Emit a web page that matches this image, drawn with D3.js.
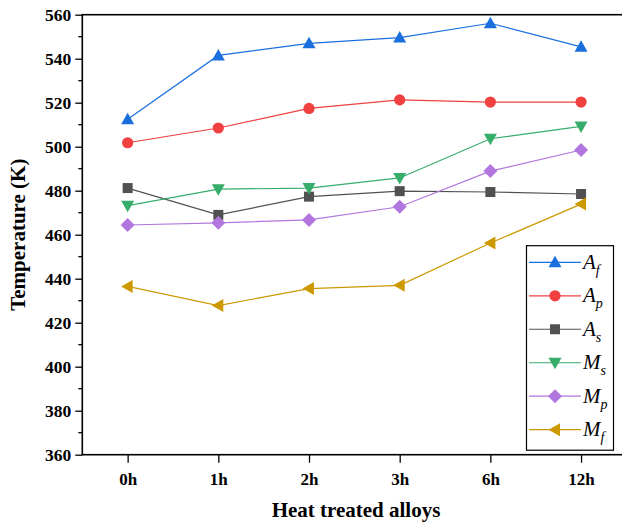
<!DOCTYPE html>
<html><head><meta charset="utf-8">
<script src="https://cdn.jsdelivr.net/npm/d3@7"></script>
<style>body{margin:0;background:#fff;}svg{display:block;}</style>
</head><body>
<svg id="c" width="622" height="522"></svg>
<script>
const categories = ["0h","1h","2h","3h","6h","12h"];
const seriesNames = ["A|f","A|p","A|s","M|s","M|p","M|f"];
const Af = [512.5, 541.5, 547.0, 549.6, 556.1, 545.4];
const Ap = [501.8, 508.5, 517.4, 521.3, 520.3, 520.3];
const As = [481.2, 469.0, 477.3, 479.8, 479.4, 478.5];
const Ms = [473.2, 480.7, 481.2, 485.8, 503.6, 509.2];
const Mp = [464.4, 465.4, 466.7, 472.7, 488.9, 498.5];
const Mf = [436.5, 427.8, 435.5, 437.0, 456.2, 473.9];
const yTicks = [360,380,400,420,440,460,480,500,520,540,560];
const colors = ["#1a6fdf","#f14040","#515151","#37ad6b","#b177de","#cc9900"];
const symbols = ["triUp","circle","square","triDown","diamond","triLeft"];
const allSeries = [Af,Ap,As,Ms,Mp,Mf];

const svg = d3.select("#c");
const L = 82.3, R = 626.4, T = 14.7, B = 454.7;
const x = d3.scalePoint().domain(categories).range([L,R]).padding(0.5);
const y = d3.scaleLinear().domain([360,560]).range([B,T]);

function marker(g, type, cx, cy, color){
  let p;
  if(type==="circle"){ g.append("circle").attr("cx",cx).attr("cy",cy).attr("r",5.6).attr("fill",color); return; }
  if(type==="square"){ g.append("rect").attr("x",cx-5).attr("y",cy-5).attr("width",10).attr("height",10).attr("fill",color); return; }
  if(type==="triUp") p=[[cx,cy-6.5],[cx+6.5,cy+5],[cx-6.5,cy+5]];
  if(type==="triDown") p=[[cx,cy+6.5],[cx+6.5,cy-5],[cx-6.5,cy-5]];
  if(type==="triLeft") p=[[cx-6.5,cy],[cx+5,cy-6.5],[cx+5,cy+6.5]];
  if(type==="diamond") p=[[cx,cy-7],[cx+7,cy],[cx,cy+7],[cx-7,cy]];
  g.append("polygon").attr("points",p.map(d=>d.join(",")).join(" ")).attr("fill",color);
}

const font = "Liberation Serif";
const minor = d3.range(370,560,20);
svg.append("g").selectAll("line").data(minor).join("line")
  .attr("x1",L-4).attr("x2",L).attr("y1",d=>y(d)).attr("y2",d=>y(d))
  .attr("stroke","#000").attr("stroke-width",1.3);
const ya = svg.append("g").attr("transform",`translate(${L},0)`)
  .call(d3.axisLeft(y).tickValues(yTicks).tickSize(7).tickPadding(4).tickSizeOuter(0));
ya.attr("font-family",font);
ya.select(".domain").remove();
ya.selectAll(".tick line").attr("stroke-width",1.3);
ya.selectAll("text").attr("font-family",font).attr("font-weight","bold").attr("font-size",17.5).attr("fill","#000");
const xa = svg.append("g").attr("transform",`translate(0,${B})`)
  .call(d3.axisBottom(x).tickSize(8).tickPadding(10).tickSizeOuter(0));
xa.attr("font-family",font);
xa.select(".domain").remove();
xa.selectAll(".tick line").attr("stroke-width",1.3);
xa.selectAll("text").attr("font-family",font).attr("font-weight","bold").attr("font-size",17).attr("fill","#000");
svg.append("rect").attr("x",L).attr("y",T).attr("width",R-L).attr("height",B-T)
  .attr("fill","none").attr("stroke","#000").attr("stroke-width",1.6);

allSeries.forEach((vals,i)=>{
  const g = svg.append("g");
  g.append("path").datum(vals)
    .attr("d", d3.line().x((d,j)=>x(categories[j])).y(d=>y(d)))
    .attr("fill","none").attr("stroke",colors[i]).attr("stroke-width",1.2);
  vals.forEach((v,j)=>marker(g, symbols[i], x(categories[j]), y(v), colors[i]));
});

svg.append("text").attr("x",356).attr("y",517).attr("text-anchor","middle")
  .attr("font-family",font).attr("font-weight","bold").attr("font-size",21).text("Heat treated alloys");
svg.append("text").attr("transform",`translate(24.5,${(T+B)/2}) rotate(-90)`).attr("text-anchor","middle")
  .attr("font-family",font).attr("font-weight","bold").attr("font-size",21).text("Temperature (K)");

const lg = svg.append("g");
lg.append("rect").attr("x",526.5).attr("y",245.7).attr("width",87).attr("height",204.5)
  .attr("fill","#fff").attr("stroke","#000").attr("stroke-width",1.2);
const rowY = d3.scaleLinear().domain([0,5]).range([262.3,429.7]);
seriesNames.forEach((nm,i)=>{
  const yy = rowY(i);
  lg.append("line").attr("x1",529).attr("x2",581).attr("y1",yy).attr("y2",yy)
    .attr("stroke",colors[i]).attr("stroke-width",1.2);
  marker(lg, symbols[i], 555, yy, colors[i]);
  const [a,b] = nm.split("|");
  const t = lg.append("text").attr("x",583).attr("y",yy+6.5)
    .attr("font-family",font).attr("font-style","italic").attr("font-size",21);
  t.append("tspan").text(a);
  t.append("tspan").attr("dy",6).attr("font-size",14).text(b);
});
</script>
</body></html>
